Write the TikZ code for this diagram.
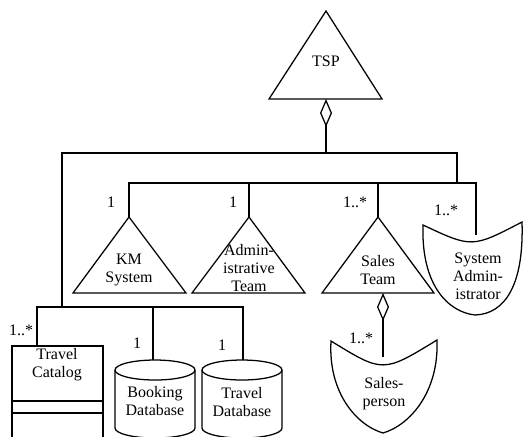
\documentclass[tikz,border=0pt]{standalone}
\usepackage{fontspec}
\setmainfont{Liberation Serif}
\usetikzlibrary{arrows.meta}

\begin{document}
\begin{tikzpicture}[x=0.75pt, y=-0.75pt]
        \tikzstyle{txt} = [align=center, inner sep=0pt, font=\fontsize{12}{13.5}\selectfont]
        \tikzstyle{mult} = [inner sep=0pt, font=\fontsize{12}{14}\selectfont]
        \tikzstyle{link} = [draw=black, line width=0.95pt]
        \tikzstyle{agg} = [link, {Diamond[open, length=21pt, width=9pt]}-]
        \tikzstyle{shapeline} = [draw=black, line width=0.95pt, line join=miter]

        \useasboundingbox (0,0) rectangle (523,436);
        \clip (0,0) rectangle (523,436);

        % triangles
        \draw [shapeline] (326,11) -- (382,99) -- (269,99) -- cycle;
        \coordinate (tsp base) at (326,99);
        \draw [shapeline] (129,217) coordinate (km top) -- (186,293) -- (73,293) -- cycle;
        \draw [shapeline] (249,217) coordinate (admin top) -- (305,293) -- (192,293) -- cycle;
        \draw [shapeline] (378,217) coordinate (sales top) -- (434,293) -- (322,293) -- cycle;
        \coordinate (sales base) at (383,293);

        % shields
        \draw [shapeline] (423,225) .. controls (472,248) .. (522,222)
            .. controls (524,285) and (505,314) .. (475,315)
            .. controls (448,312) and (421,285) .. cycle;
        \coordinate (sa top) at (476,235);
        \draw [shapeline] (331,341) .. controls (383,373) .. (437,340)
            .. controls (439,392) and (410,425) .. (383,433)
            .. controls (356,425) and (328,392) .. cycle;
        \coordinate (sp top) at (383,357);

        % class box and databases
        \draw [shapeline] (12,346) rectangle (103,460);
        \draw [shapeline] (12,401) -- (103,401);
        \draw [shapeline] (12,413) -- (103,413);
        \coordinate (catalog top) at (37,346);
        \draw [shapeline] (115,370) -- (115,428) arc[start angle=180, end angle=0, x radius=40, y radius=10] -- (195,370);
        \draw [shapeline] (155,370) ellipse [x radius=40, y radius=10];
        \coordinate (bdb top) at (153,360);
        \draw [shapeline] (202,370) -- (202,428) arc[start angle=180, end angle=0, x radius=40, y radius=10] -- (282,370);
        \draw [shapeline] (242,370) ellipse [x radius=40, y radius=10];
        \coordinate (tdb top) at (243,360);

        % texts
        \node (tsp) [txt] at (326,61) {TSP};
        \node (km) [txt] at (129,270) {KM\\System};
        \node (admin) [txt] at (249,268) {Admin-\\istrative\\Team};
        \node (sales) [txt] at (378,270) {Sales\\Team};
        \node (sa) [txt] at (478,276) {System\\Admin-\\istrator};
        \node (sp) [txt] at (384,394) {Sales-\\person};
        \node (catalog) [txt] at (57,365) {Travel\\Catalog};
        \node (bdb) [txt] at (155,401) {Booking\\Database};
        \node (tdb) [txt] at (242,402) {Travel\\Database};

        % multiplicities
        \node (m km) [mult] at (111,202) {1};
        \node (m admin) [mult] at (233,202) {1};
        \node (m sales) [mult] at (355,202) {1..*};
        \node (m sa) [mult] at (446,210) {1..*};
        \node (m catalog) [mult] at (21,330) {1..*};
        \node (m bdb) [mult] at (137,343) {1};
        \node (m tdb) [mult] at (222,345) {1};
        \node (m sp) [mult] at (361,338) {1..*};

        % connectors
        \coordinate (bus1) at (0,153);
        \coordinate (bus2) at (0,183);
        \coordinate (bus3) at (0,307);
        \coordinate (j left) at (62,307);
        \coordinate (j right) at (457,183);
        \draw [agg] (tsp base) -- (tsp base |- bus1);
        \draw [link] (j left) |- (j right |- bus1) -- (j right);
        \draw [link] (km top) |- (sa top |- bus2) -- (sa top);
        \draw [link] (admin top) -- (admin top |- bus2);
        \draw [link] (sales top) -- (sales top |- bus2);
        \draw [link] (catalog top) |- (tdb top |- bus3) -- (tdb top);
        \draw [link] (bdb top) -- (bdb top |- bus3);
        \draw [agg] (sales base) -- (sp top);
    \end{tikzpicture}
\end{document}
